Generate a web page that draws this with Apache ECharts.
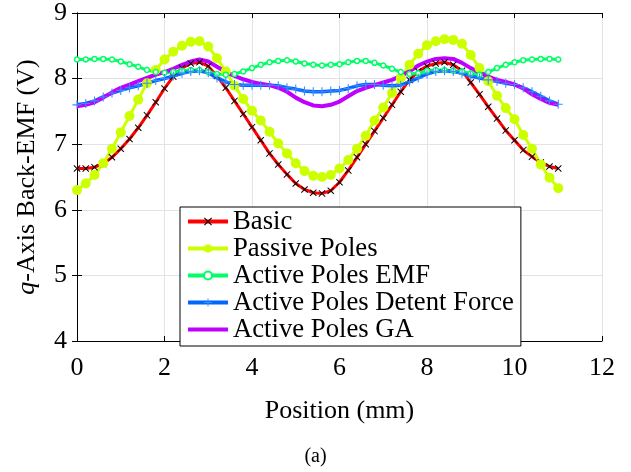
<!DOCTYPE html>
<html>
<head>
<meta charset="utf-8">
<script src="https://cdn.jsdelivr.net/npm/echarts@6/dist/echarts.min.js"></script>
<style>
html, body { margin: 0; padding: 0; background: #fff; }
#main { width: 631px; height: 472px; }
</style>
</head>
<body>
<div id="main"></div>
<script>
// position (mm), 0 .. 11 step 0.2
var positions = [0.0, 0.2, 0.4, 0.6, 0.8, 1.0, 1.2, 1.4, 1.6, 1.8, 2.0, 2.2, 2.4, 2.6, 2.8, 3.0, 3.2, 3.4, 3.6, 3.8,
	4.0, 4.2, 4.4, 4.6, 4.8, 5.0, 5.2, 5.4, 5.6, 5.8, 6.0, 6.2, 6.4, 6.6, 6.8, 7.0, 7.2, 7.4, 7.6, 7.8,
	8.0, 8.2, 8.4, 8.6, 8.8, 9.0, 9.2, 9.4, 9.6, 9.8, 10.0, 10.2, 10.4, 10.6, 10.8, 11.0];

var basic = [6.63, 6.63, 6.65, 6.70, 6.80, 6.93, 7.08, 7.25, 7.44, 7.64, 7.85, 8.03, 8.16, 8.23, 8.25, 8.19, 8.04, 7.86, 7.66, 7.46,
	7.26, 7.06, 6.86, 6.69, 6.54, 6.40, 6.31, 6.26, 6.25, 6.29, 6.42, 6.60, 6.80, 7.00, 7.20, 7.40, 7.60, 7.80, 7.98, 8.11,
	8.19, 8.23, 8.25, 8.21, 8.12, 7.94, 7.76, 7.57, 7.39, 7.21, 7.06, 6.91, 6.81, 6.72, 6.66, 6.63];

var passivePoles = [6.30, 6.40, 6.53, 6.71, 6.93, 7.18, 7.43, 7.68, 7.93, 8.13, 8.29, 8.41, 8.50, 8.56, 8.57, 8.49, 8.31, 8.11, 7.89, 7.69,
	7.51, 7.36, 7.19, 7.01, 6.86, 6.71, 6.59, 6.52, 6.50, 6.53, 6.63, 6.76, 6.93, 7.13, 7.36, 7.56, 7.78, 8.01, 8.21, 8.38,
	8.51, 8.57, 8.60, 8.59, 8.53, 8.36, 8.16, 7.96, 7.74, 7.55, 7.38, 7.14, 6.93, 6.69, 6.49, 6.33];

var activeEmf = [8.29, 8.29, 8.30, 8.30, 8.29, 8.26, 8.22, 8.18, 8.13, 8.10, 8.09, 8.10, 8.12, 8.13, 8.13, 8.10, 8.07, 8.06, 8.07, 8.11,
	8.16, 8.21, 8.25, 8.27, 8.28, 8.26, 8.23, 8.21, 8.20, 8.21, 8.22, 8.25, 8.27, 8.27, 8.24, 8.20, 8.15, 8.10, 8.07, 8.08,
	8.12, 8.13, 8.13, 8.12, 8.11, 8.08, 8.06, 8.10, 8.16, 8.21, 8.25, 8.28, 8.29, 8.30, 8.30, 8.29];

var activeDetent = [7.60, 7.62, 7.66, 7.72, 7.78, 7.82, 7.86, 7.89, 7.93, 7.97, 8.00, 8.04, 8.08, 8.11, 8.12, 8.09, 8.01, 7.95, 7.91, 7.90,
	7.90, 7.90, 7.90, 7.89, 7.86, 7.84, 7.81, 7.80, 7.80, 7.81, 7.82, 7.85, 7.89, 7.91, 7.91, 7.90, 7.89, 7.90, 7.95, 8.01,
	8.07, 8.11, 8.12, 8.11, 8.08, 8.04, 8.01, 7.98, 7.96, 7.93, 7.91, 7.86, 7.80, 7.73, 7.66, 7.61];

var activeGa = [7.58, 7.60, 7.64, 7.71, 7.79, 7.86, 7.91, 7.96, 8.01, 8.06, 8.10, 8.15, 8.21, 8.26, 8.29, 8.26, 8.18, 8.10, 8.04, 7.99,
	7.95, 7.92, 7.90, 7.86, 7.80, 7.71, 7.64, 7.59, 7.58, 7.60, 7.65, 7.73, 7.81, 7.86, 7.90, 7.94, 7.98, 8.04, 8.11, 8.20,
	8.26, 8.30, 8.31, 8.30, 8.24, 8.16, 8.09, 8.03, 7.98, 7.95, 7.91, 7.85, 7.76, 7.69, 7.63, 7.60];

var seriesNames = ['Basic', 'Passive Poles', 'Active Poles EMF', 'Active Poles Detent Force', 'Active Poles GA'];

var xMin = 0, xMax = 12, xStep = 2;
var yMin = 4, yMax = 9, yStep = 1;

var serif = "'Liberation Serif', 'Times New Roman', serif";
// marker shapes (matlab 'x' and '+')
var crossPath = 'path://M0,1L1,0L5,4L9,0L10,1L6,5L10,9L9,10L5,6L1,10L0,9L4,5Z';
var plusPath = 'path://M4.4,0H5.6V4.4H10V5.6H5.6V10H4.4V5.6H0V4.4H4.4Z';

function pairs(vals) {
	var out = [];
	for (var i = 0; i < vals.length; i++) {
		out.push([positions[i], vals[i]]);
	}
	return out;
}

var chart = echarts.init(document.getElementById('main'));

var axisLine = { show: true, lineStyle: { color: '#000', width: 1 } };

var option = {
	animation: false,
	backgroundColor: '#fff',
	grid: { left: 77, right: 29, top: 9, bottom: 131 },
	legend: {
		orient: 'vertical',
		left: 180,
		top: 207,
		backgroundColor: '#fff',
		borderColor: '#000',
		borderWidth: 1,
		borderRadius: 0,
		padding: [1, 7, 3, 6],
		itemGap: 0,
		itemWidth: 40,
		itemHeight: 10,
		lineStyle: { width: 4 },
		textStyle: { fontFamily: serif, fontSize: 26.7, lineHeight: 25, color: '#000' },
		data: [
			seriesNames[0],
			seriesNames[1],
			seriesNames[2],
			seriesNames[3],
			{ name: seriesNames[4], itemStyle: { opacity: 0 } }
		]
	},
	xAxis: [{
		type: 'value',
		min: xMin, max: xMax, interval: xStep,
		name: 'Position (mm)',
		nameLocation: 'middle',
		nameGap: 57,
		nameTextStyle: { fontFamily: serif, fontSize: 26, color: '#000' },
		axisLine: axisLine,
		axisTick: { show: true, inside: true, length: 5, lineStyle: { color: '#000' } },
		axisLabel: { fontFamily: serif, fontSize: 26, color: '#000', margin: 14 },
		splitLine: { show: true, lineStyle: { color: '#e3e3e3', width: 1 } }
	}, {
		type: 'value',
		position: 'top',
		min: xMin, max: xMax, interval: xStep,
		axisLine: axisLine,
		axisTick: { show: true, inside: true, length: 5, lineStyle: { color: '#000' } },
		axisLabel: { show: false },
		splitLine: { show: false }
	}],
	yAxis: [{
		type: 'value',
		min: yMin, max: yMax, interval: yStep,
		name: '{q|q}-Axis Back-EMF (V)',
		nameLocation: 'middle',
		nameGap: 37,
		nameTextStyle: {
			fontFamily: serif, fontSize: 26, color: '#000',
			rich: { q: { fontFamily: serif, fontSize: 26, fontStyle: 'italic', color: '#000' } }
		},
		axisLine: axisLine,
		axisTick: { show: true, inside: true, length: 5, lineStyle: { color: '#000' } },
		axisLabel: { fontFamily: serif, fontSize: 26, color: '#000', margin: 10 },
		splitLine: { show: true, lineStyle: { color: '#e3e3e3', width: 1 } }
	}, {
		type: 'value',
		position: 'right',
		min: yMin, max: yMax, interval: yStep,
		axisLine: axisLine,
		axisTick: { show: true, inside: true, length: 5, lineStyle: { color: '#000' } },
		axisLabel: { show: false },
		splitLine: { show: false }
	}],
	graphic: [{
		type: 'text',
		left: 'center',
		top: 447,
		style: { text: '(a)', font: '20px ' + serif, fill: '#000' }
	}],
	series: [{
		name: seriesNames[0],
		type: 'line',
		data: pairs(basic),
		symbol: crossPath,
		symbolSize: 7,
		showAllSymbol: true,
		lineStyle: { color: '#ff0000', width: 3 },
		itemStyle: { color: '#000' }
	}, {
		name: seriesNames[1],
		type: 'line',
		data: pairs(passivePoles),
		symbol: 'circle',
		symbolSize: 10,
		showAllSymbol: true,
		lineStyle: { color: '#ccff00', width: 3 },
		itemStyle: { color: '#ccff00' }
	}, {
		name: seriesNames[2],
		type: 'line',
		data: pairs(activeEmf),
		symbol: 'circle',
		symbolSize: 5,
		showAllSymbol: true,
		lineStyle: { color: '#00ff66', width: 3 },
		itemStyle: { color: '#fff', borderColor: '#00ff66', borderWidth: 1.5 }
	}, {
		name: seriesNames[3],
		type: 'line',
		data: pairs(activeDetent),
		symbol: plusPath,
		symbolSize: 9,
		showAllSymbol: true,
		lineStyle: { color: '#0066ff', width: 3.5 },
		itemStyle: { color: '#3d8bff' }
	}, {
		name: seriesNames[4],
		type: 'line',
		data: pairs(activeGa),
		symbol: 'none',
		lineStyle: { color: '#bf00ff', width: 4 },
		itemStyle: { color: '#bf00ff' }
	}]
};

chart.setOption(option);
</script>
</body>
</html>
